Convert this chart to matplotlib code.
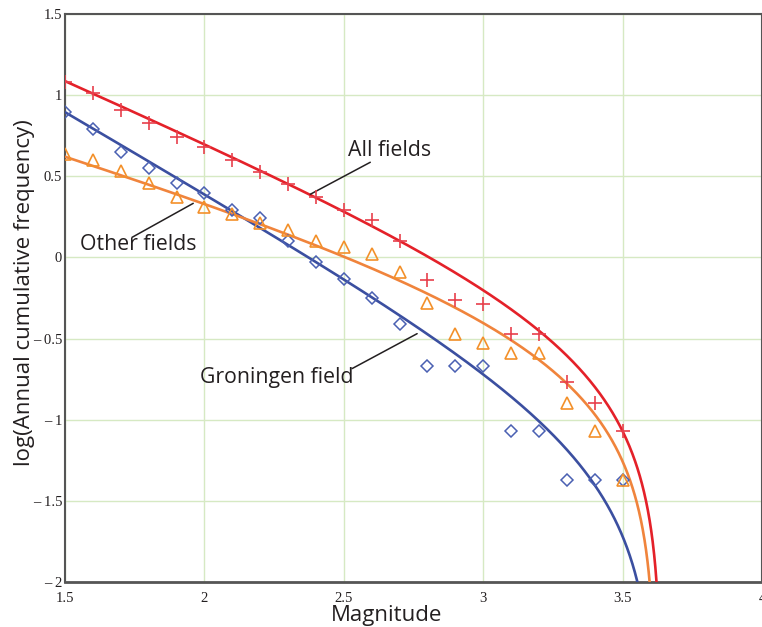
import matplotlib

matplotlib.use("Agg")
import matplotlib.pyplot as plt
import numpy as np
from matplotlib.ticker import FixedLocator, FuncFormatter

# observed data: log annual cumulative frequency per magnitude bin
magnitude = [1.5, 1.6, 1.7, 1.8, 1.9, 2.0, 2.1, 2.2, 2.3, 2.4, 2.5,
             2.6, 2.7, 2.8, 2.9, 3.0, 3.1, 3.2, 3.3, 3.4, 3.5]
all_fields = [1.08, 1.01, 0.91, 0.83, 0.74, 0.68, 0.60, 0.525, 0.45, 0.37, 0.29,
              0.23, 0.10, -0.14, -0.26, -0.29, -0.47, -0.47, -0.765, -0.895, -1.068]
other_fields = [0.64, 0.60, 0.53, 0.46, 0.37, 0.31, 0.27, 0.21, 0.167, 0.10, 0.062,
                0.018, -0.09, -0.28, -0.47, -0.53, -0.59, -0.59, -0.895, -1.068, -1.37]
groningen = [0.895, 0.79, 0.65, 0.55, 0.46, 0.395, 0.29, 0.24, 0.10, -0.03, -0.136,
             -0.25, -0.41, -0.667, -0.667, -0.667, -1.068, -1.068, -1.37, -1.37, -1.37]

# truncated Gutenberg-Richter fits: (a, b, Mmax)
fit_all = (2.222, 0.75, 3.64)
fit_other = (1.436, 0.52, 3.62)
fit_gron = (2.398, 1.00, 3.62)

# curve labels: (text, text anchor, leader start, leader end)
labels = [
    ("All fields", (2.516, 0.66), (2.595, 0.586), (2.38, 0.389)),
    ("Other fields", (1.554, 0.08), (1.74, 0.123), (1.96, 0.333)),
    ("Groningen field", (1.985, -0.74), (2.53, -0.685), (2.763, -0.47)),
]

RED, ORANGE, BLUE = "#e42129", "#f0843c", "#3b4fa0"
INK = "#231f20"


def gr_curve(params, m):
    a, b, mmax = params
    return a - b * m + np.log10(1 - 10 ** (-b * (mmax - m)))


def tick_fmt(v, _pos):
    s = f"{abs(v):g}"
    return f"\u2013 {s}" if v < 0 else s


fig = plt.figure(figsize=(7.62, 6.27), dpi=100)
ax = fig.add_axes([0.0853, 0.0718, 0.9147, 0.906])

for params, color in ((fit_gron, BLUE), (fit_other, ORANGE), (fit_all, RED)):
    m = np.linspace(1.5, params[2] - 1e-6, 2000)
    ax.plot(m, gr_curve(params, m), color=color, lw=1.9, zorder=3)

ax.plot(magnitude, groningen, ls="none", marker="D", ms=6, mfc="none",
        mec="#4a60b2", mew=1.1, zorder=4)
ax.plot(magnitude, other_fields, ls="none", marker="^", ms=8.5, mfc="none",
        mec="#f3902a", mew=1.2, zorder=4)
ax.plot(magnitude, all_fields, ls="none", marker="+", ms=10, mec="#e8404c",
        mew=1.2, zorder=5)

ax.set_xlim(1.5, 4.0)
ax.set_ylim(-2, 1.5)
ax.xaxis.set_major_locator(FixedLocator([1.5, 2, 2.5, 3, 3.5, 4]))
ax.yaxis.set_major_locator(FixedLocator([-2, -1.5, -1, -0.5, 0, 0.5, 1, 1.5]))
ax.xaxis.set_major_formatter(FuncFormatter(tick_fmt))
ax.yaxis.set_major_formatter(FuncFormatter(tick_fmt))
ax.tick_params(length=0, labelsize=10.5, labelcolor=INK)
ax.tick_params(axis="x", pad=7)
ax.tick_params(axis="y", pad=2)
for lab in ax.get_xticklabels() + ax.get_yticklabels():
    lab.set_fontfamily("Liberation Serif")
ax.grid(color="#d6e9c3", lw=1.0, zorder=0)
for side, sp in ax.spines.items():
    sp.set_color("#555555")
    sp.set_linewidth(2.0 if side == "bottom" else 1.5)

label_font = {"family": "Open Sans", "size": 16, "color": INK}
ax.set_xlabel("Magnitude", fontdict=label_font)
ax.xaxis.set_label_coords(0.461, -0.041)
ax.xaxis.label.set_va("top")
ax.set_ylabel("log(Annual cumulative frequency)", fontdict=label_font)
ax.yaxis.set_label_coords(-0.043, 0.51)

for text, (tx, ty), start, end in labels:
    ax.text(tx, ty, text, family="Open Sans", size=15.3, color=INK,
            ha="left", va="center", zorder=6)
    ax.annotate("", xy=end, xytext=start,
                arrowprops=dict(arrowstyle="-", color=INK, lw=1.1,
                                shrinkA=0, shrinkB=0))

fig.savefig("out.png", dpi=100)
